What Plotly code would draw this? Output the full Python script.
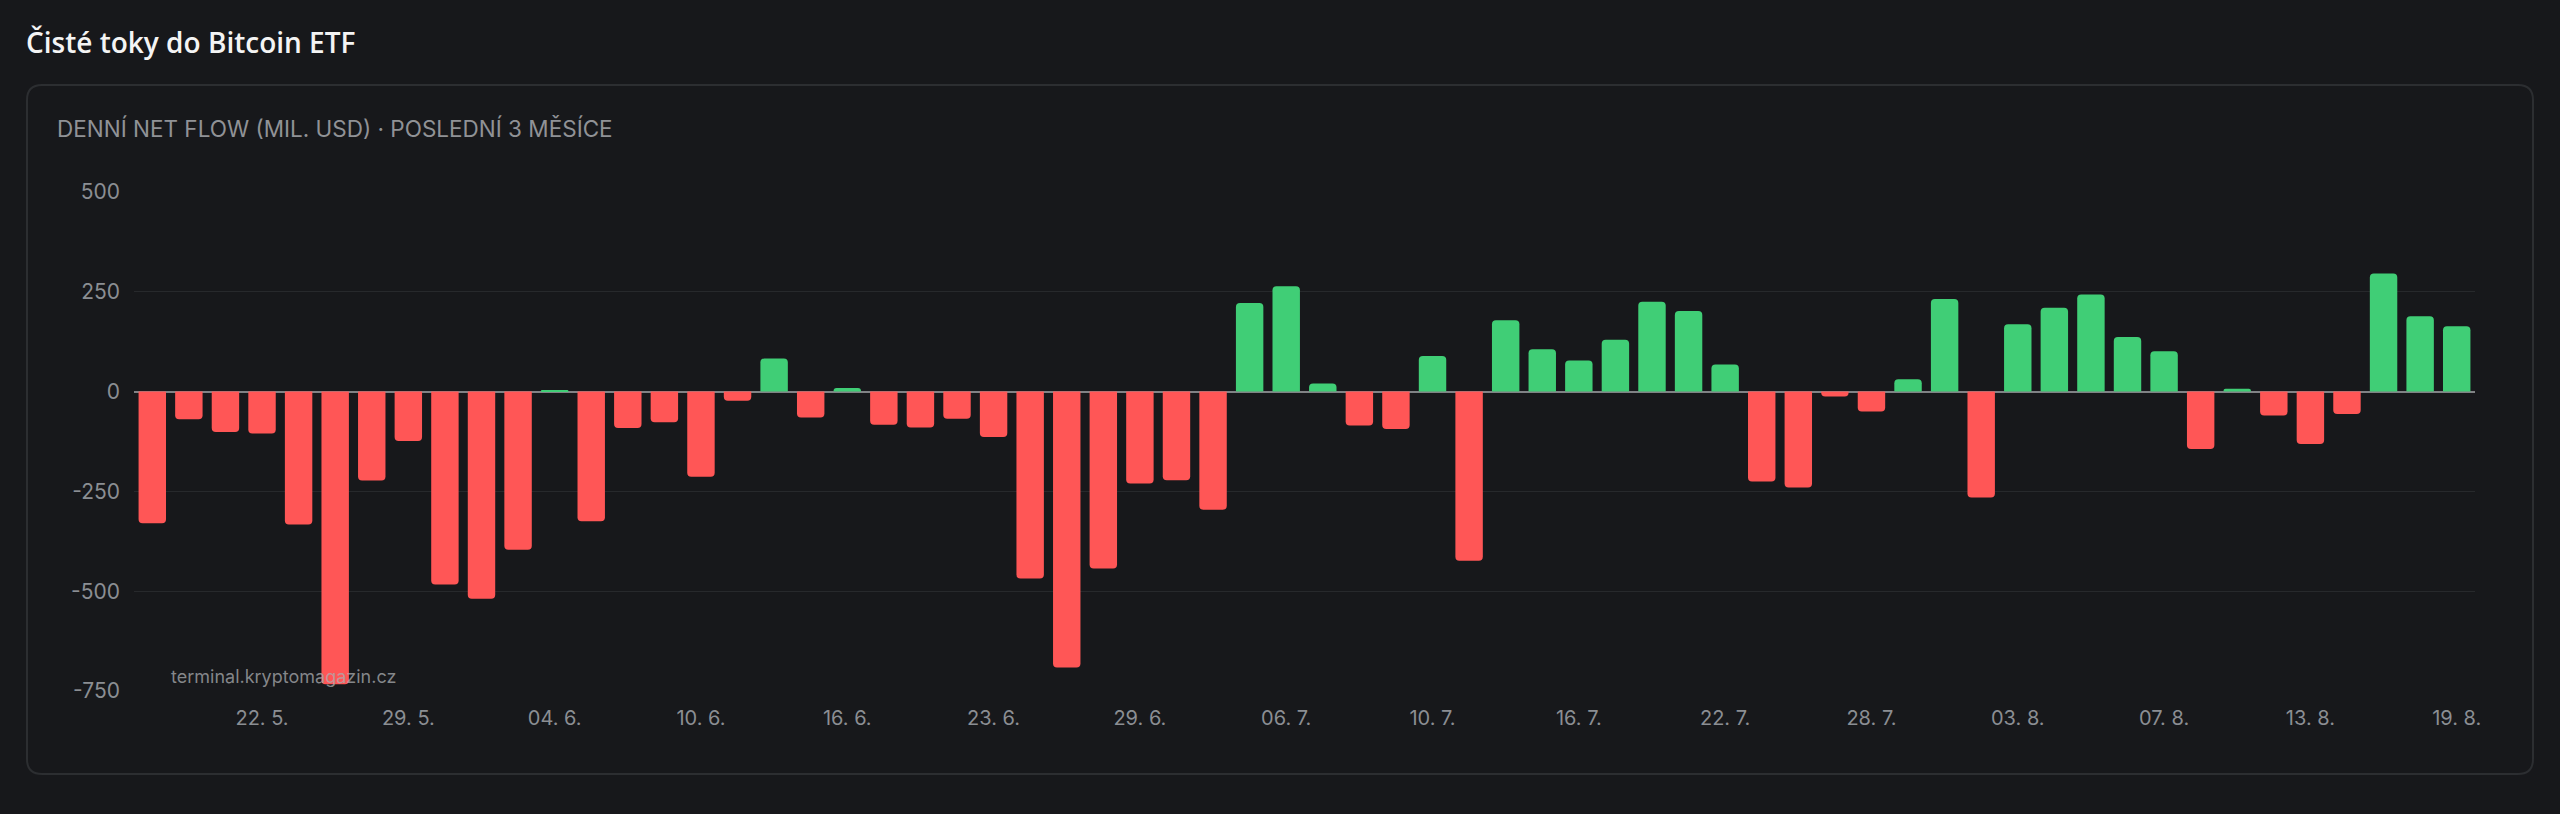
import plotly.graph_objects as go

# ---- data ----
net_flow = [-330, -69, -101, -105, -333, -733, -223, -124, -483, -519,
            -396, 3, -325, -91, -77, -213, -23, 83, -65, 9,
            -83, -90, -68, -114, -468, -691, -443, -230, -222, -296,
            222, 264, 20, -85, -94, 89, -424, 179, 106, 78,
            130, 225, 202, 68, -225, -240, -12, -50, 31, 232,
            -265, 169, 210, 243, 137, 101, -144, 7, -60, -131,
            -56, 296, 189, 164]
date_labels = ["22. 5.", "29. 5.", "04. 6.", "10. 6.", "16. 6.", "23. 6.", "29. 6.", "06. 7.",
               "10. 7.", "16. 7.", "22. 7.", "28. 7.", "03. 8.", "07. 8.", "13. 8.", "19. 8."]
y_ticks = [-750, -500, -250, 0, 250, 500]
title_text = "Čisté toky do Bitcoin ETF"
subtitle_text = "DENNÍ NET FLOW (MIL. USD) · POSLEDNÍ 3 MĚSÍCE"
watermark_text = "terminal.kryptomagazin.cz"

# ---- styling ----
W, H = 2560, 814
L, R, T, B = 134, 85, 192, 123
BG = "#17181b"
GREEN = "#40ce76"
RED = "#ff5656"
TICK = "#8b8e93"
FONT = "Inter"

n = len(net_flow)
xs = list(range(n))
label_step = 4
tick_idx = list(range(n - 1 - label_step * (len(date_labels) - 1), n, label_step))
colors = [GREEN if v >= 0 else RED for v in net_flow]

pw, ph = W - L - R, H - T - B
def px(x):
    return (x - L) / pw
def py(y):
    return (H - B - y) / ph

fig = go.Figure()
fig.add_trace(go.Bar(x=xs, y=net_flow, marker=dict(color=colors, line=dict(width=0)),
                     hoverinfo="y", showlegend=False))

# card with rounded corners
x0, x1, y0, y1, r = 27, 2533, 85, 774, 15
path = (f"M {px(x0+r)} {py(y0)} L {px(x1-r)} {py(y0)} Q {px(x1)} {py(y0)} {px(x1)} {py(y0+r)} "
        f"L {px(x1)} {py(y1-r)} Q {px(x1)} {py(y1)} {px(x1-r)} {py(y1)} "
        f"L {px(x0+r)} {py(y1)} Q {px(x0)} {py(y1)} {px(x0)} {py(y1-r)} "
        f"L {px(x0)} {py(y0+r)} Q {px(x0)} {py(y0)} {px(x0+r)} {py(y0)} Z")
fig.add_shape(type="path", path=path, xref="paper", yref="paper",
              line=dict(color="#2c2e31", width=2), fillcolor=BG, layer="below")

fig.add_annotation(text=title_text, xref="paper", yref="paper", x=px(24), y=py(42),
                   xanchor="left", yanchor="middle", showarrow=False,
                   font=dict(family="Open Sans", size=28, color="#f4f4f4", weight=600))
fig.add_annotation(text=subtitle_text, xref="paper", yref="paper", x=px(55), y=py(128),
                   xanchor="left", yanchor="middle", showarrow=False,
                   font=dict(family=FONT, size=22.5, color="#909296", weight=400))
fig.add_annotation(text=watermark_text, xref="paper", yref="paper", x=px(169), y=py(676),
                   xanchor="left", yanchor="middle", showarrow=False,
                   font=dict(family=FONT, size=18, color="rgba(170,172,176,0.75)"))

fig.update_layout(
    width=W, height=H, margin=dict(l=L, r=R, t=T, b=B, pad=0),
    paper_bgcolor=BG, plot_bgcolor=BG,
    bargap=0.25, barcornerradius=4,
    font=dict(family=FONT, size=20, color=TICK),
    xaxis=dict(range=[-0.5, n - 0.5], tickmode="array", tickvals=tick_idx, ticktext=date_labels,
               showgrid=False, zeroline=False, showline=False, ticks="", ticklabelstandoff=13,
               tickfont=dict(size=20, color=TICK)),
    yaxis=dict(range=[y_ticks[0], y_ticks[-1]], tickmode="array", tickvals=y_ticks,
               ticktext=[str(v) for v in y_ticks], showgrid=True, gridcolor="#27292c", gridwidth=1,
               zeroline=True, zerolinecolor="#808285", zerolinewidth=2, showline=False,
               ticks="", ticklabelstandoff=13, tickfont=dict(size=21, color=TICK)),
)

fig.write_html("out.html", config={"displayModeBar": False},
               post_script="document.body.style.margin='0';document.body.style.background='%s';" % BG)
